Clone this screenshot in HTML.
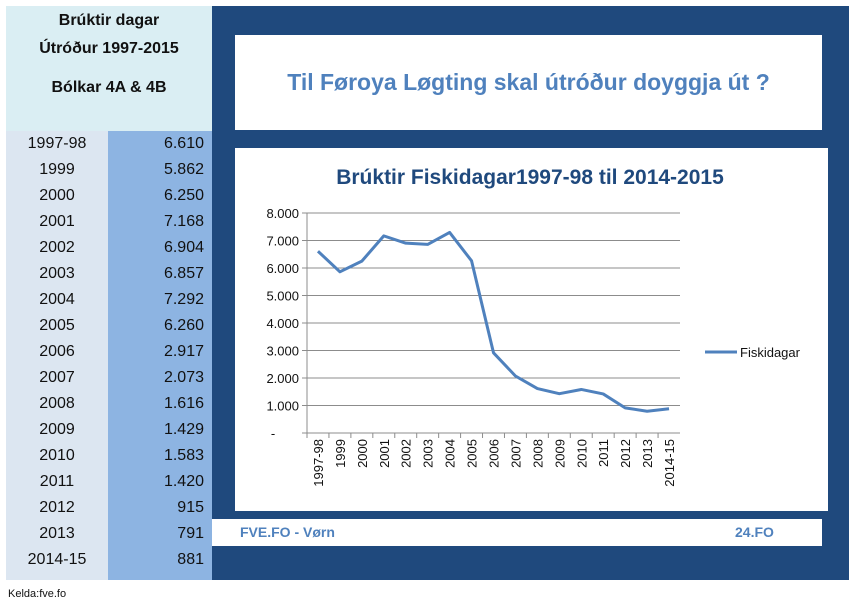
<!DOCTYPE html>
<html><head><meta charset="utf-8"><style>
body{margin:0;width:859px;height:607px;background:#fff;position:relative;overflow:hidden;font-family:"Liberation Sans",sans-serif}
div{position:absolute}
.yr,.vl{font-size:16px;color:#111;height:26px;line-height:26px}
.yr{left:6px;width:102px;text-align:center}
.vl{left:108px;width:96px;text-align:right}
</style></head><body>
<div style="left:6px;top:6px;width:206px;height:125px;background:#daeef3;text-align:center;font-weight:bold;font-size:16px;color:#111">
<div style="left:0;top:6px;width:206px">Brúktir dagar</div>
<div style="left:0;top:34px;width:206px">Útróður 1997-2015</div>
<div style="left:0;top:73px;width:206px">Bólkar 4A &amp; 4B</div>
</div>
<div style="left:6px;top:131px;width:102px;height:449px;background:#dce6f1"></div>
<div style="left:108px;top:131px;width:104px;height:449px;background:#8db4e2"></div>
<div id="tbl" style="left:0;top:0"></div>
<div style="left:212px;top:6px;width:637px;height:574px;background:#1f497d"></div>
<div style="left:235px;top:35px;width:587px;height:95px;background:#fff;text-align:center;line-height:95px;font-size:23px;color:#4f81bd;font-weight:bold">Til Føroya Løgting skal útróður doyggja út ?</div>
<div style="left:212px;top:519px;width:610px;height:27px;background:#fff;font-size:14px;font-weight:bold;color:#4f81bd">
<div style="left:28px;top:5px">FVE.FO - Vørn</div><div style="left:523px;top:5px">24.FO</div></div>
<div style="left:8px;top:588px;font-size:11px;color:#111">Kelda:fve.fo</div>
<svg style="position:absolute;left:0;top:0" width="859" height="607">
<rect x="235" y="148" width="593" height="363" fill="#fff"/>
<text x="530" y="184" text-anchor="middle" font-size="21" font-weight="bold" fill="#1f497d" font-family="Liberation Sans">Brúktir Fiskidagar1997-98  til 2014-2015</text>
<g id="plot"></g>
<line x1="705" y1="352" x2="737" y2="352" stroke="#4f81bd" stroke-width="3"/>
<text x="740" y="357" font-size="13" fill="#111" font-family="Liberation Sans">Fiskidagar</text>
</svg>
<script>
const categories=["1997-98","1999","2000","2001","2002","2003","2004","2005","2006","2007","2008","2009","2010","2011","2012","2013","2014-15"];
const values=[6610,5862,6250,7168,6904,6857,7292,6260,2917,2073,1616,1429,1583,1420,915,791,881];
const tableLabels=["6.610","5.862","6.250","7.168","6.904","6.857","7.292","6.260","2.917","2.073","1.616","1.429","1.583","1.420","915","791","881"];
const yTicks=[0,1000,2000,3000,4000,5000,6000,7000,8000];
const yTickLabels=["-","1.000","2.000","3.000","4.000","5.000","6.000","7.000","8.000"];
const NS="http://www.w3.org/2000/svg";
const x0=307,x1=680,y0=433,y1=213,ymax=8000;
const bw=(x1-x0)/categories.length;
const X=i=>x0+bw*(i+0.5);
const Y=v=>y0-(v/ymax)*(y0-y1);
const tbl=document.getElementById('tbl');
categories.forEach((c,i)=>{
 const a=document.createElement('div');a.className='yr';a.style.top=(131+i*26)+'px';a.textContent=c;
 
 
 tbl.appendChild(a);
 const b=document.createElement('div');b.className='vl';b.style.top=(131+i*26)+'px';b.textContent=tableLabels[i];
 
 
 tbl.appendChild(b);
});
const g=document.getElementById('plot');
function el(t,at){const e=document.createElementNS(NS,t);for(const k in at)e.setAttribute(k,at[k]);g.appendChild(e);return e;}
yTicks.forEach((t,i)=>{
 const y=Y(t);
 if(t>0){const l=el('line',{x1:x0-5,y1:y,x2:x1,y2:y,stroke:'#8c8c8c','stroke-width':1});
 
 }
 const tx=el('text',{x:t>0?x0-8:x0-34,y:y+5,'text-anchor':t>0?'end':'middle','font-size':13,fill:'#111','font-family':'Liberation Sans'});
 tx.textContent=yTickLabels[i];
 
 
});
const ax=el('line',{x1:x0,y1:y1,x2:x0,y2:y0,stroke:'#8c8c8c'});


const xa=el('line',{x1:x0-5,y1:y0,x2:x1,y2:y0,stroke:'#8c8c8c'});


categories.forEach((c,i)=>{
 const tk=el('line',{x1:x0+bw*i,y1:y0,x2:x0+bw*i,y2:y0+5,stroke:'#8c8c8c'});
 
 
 const tx=el('text',{x:0,y:0,'text-anchor':'end','font-size':13,fill:'#111','font-family':'Liberation Sans',transform:`translate(${X(i)+5},${y0+6}) rotate(-90)`});
 tx.textContent=c;
 
 
});
const p=el('polyline',{points:values.map((v,i)=>X(i)+','+Y(v)).join(' '),fill:'none',stroke:'#4f81bd','stroke-width':3,'stroke-linejoin':'round'});


</script>
</body></html>
